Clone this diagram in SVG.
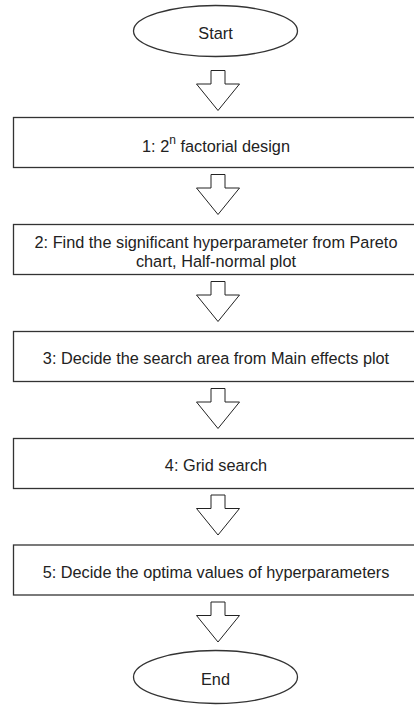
<svg xmlns="http://www.w3.org/2000/svg" width="414" height="705" viewBox="0 0 414 705">
<style>
.n{fill:#fff;stroke:#333;stroke-width:1.3}
.t{font-family:"Liberation Sans",Arial,sans-serif;font-size:16.3px;fill:#222;text-anchor:middle;dominant-baseline:central}
.a{fill:#fff;stroke:#222;stroke-width:1}
</style>
<defs>
<path id="arr" d="M-7,0 H7 V13.5 H21.5 L0,40 L-21.5,13.5 H-7 Z"/>
</defs>
<rect width="414" height="705" fill="#fff"/>
<g id="connectors">
<use href="#arr" class="a" x="218" y="70.5"/>
<use href="#arr" class="a" x="218" y="174.5"/>
<use href="#arr" class="a" x="218" y="281.5"/>
<use href="#arr" class="a" x="218" y="388.5"/>
<use href="#arr" class="a" x="218" y="495"/>
<use href="#arr" class="a" x="218" y="602"/>
</g>
<g id="start">
<ellipse class="n" cx="215.5" cy="31" rx="82" ry="25.5"/>
<text class="t" x="215.5" y="33">Start</text>
</g>
<g id="step1">
<rect class="n" x="13.5" y="117.5" width="406" height="50"/>
<text class="t" x="216" y="146">1: 2<tspan font-size="12" dy="-6">n</tspan><tspan dy="6"> factorial design</tspan></text>
</g>
<g id="step2">
<rect class="n" x="13.5" y="224.5" width="406" height="50"/>
<text class="t" x="216" y="242">2: Find the significant hyperparameter from Pareto</text>
<text class="t" x="216" y="261">chart, Half-normal plot</text>
</g>
<g id="step3">
<rect class="n" x="13.5" y="331.5" width="406" height="50"/>
<text class="t" x="216" y="358">3: Decide the search area from Main effects plot</text>
</g>
<g id="step4">
<rect class="n" x="13.5" y="438.5" width="406" height="50"/>
<text class="t" x="216" y="465">4: Grid search</text>
</g>
<g id="step5">
<rect class="n" x="13.5" y="545" width="406" height="50"/>
<text class="t" x="216" y="572">5: Decide the optima values of hyperparameters</text>
</g>
<g id="end">
<ellipse class="n" cx="215.5" cy="677" rx="82" ry="26.5"/>
<text class="t" x="215.5" y="679">End</text>
</g>
</svg>
